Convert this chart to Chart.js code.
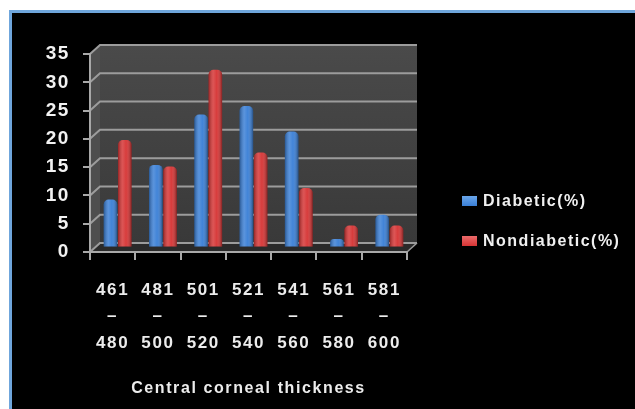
<!DOCTYPE html>
<html>
<head>
<meta charset="utf-8">
<script src="https://cdn.jsdelivr.net/npm/chart.js@4.4.1/dist/chart.umd.min.js"></script>
<style>
  html, body { margin: 0; padding: 0; background: #ffffff; overflow: hidden; }
  #frame {
    position: absolute; left: 9px; top: 10px; width: 660px; height: 440px;
    background: #000000; border-left: 3px solid #6fa6dc; border-top: 3px solid #6fa6dc;
  }
  #chart { position: absolute; left: 0; top: 0; }
</style>
</head>
<body>
<div id="frame"></div>
<canvas id="chart" width="635" height="409"></canvas>
<script>
// Central corneal thickness ranges (µm)
const rangeStart = [461, 481, 501, 521, 541, 561, 581];
const rangeEnd   = [480, 500, 520, 540, 560, 580, 600];

// Share of eyes in each range (%)
const diabetic    = [8.5, 14.6, 23.5, 25, 20.5, 1.5, 5.8];
const nondiabetic = [19, 14.3, 31.4, 16.8, 10.5, 3.9, 3.9];

const seriesNames = ['Diabetic(%)', 'Nondiabetic(%)'];
const yTicks = { min: 0, max: 35, step: 5 };

const categories = rangeStart.map((s, i) => [String(s), '\u2013', String(rangeEnd[i])]);

// depth of the pseudo-3D box: back wall offset, bars sit half way
const DEPTH = { dx: 10, dy: -9 };
const BAR_SHIFT = { dx: DEPTH.dx / 2, dy: DEPTH.dy / 2 };

const FONT = '"Liberation Sans", Arial, sans-serif';
Chart.defaults.font.family = FONT;
Chart.defaults.font.weight = 'bold';
Chart.defaults.color = '#f0f0f0';

const box3d = {
  id: 'box3d',
  beforeDraw(chart) {
    const { ctx, chartArea: a, scales } = chart;
    ctx.letterSpacing = '1.6px';
    const y = scales.y;
    const { dx, dy } = DEPTH;
    ctx.save();
    // back wall
    const g = ctx.createLinearGradient(0, a.top + dy, 0, a.bottom + dy);
    g.addColorStop(0, '#4a4a4a');
    g.addColorStop(1, '#393939');
    ctx.fillStyle = g;
    ctx.fillRect(a.left + dx, a.top + dy, a.right - a.left, a.bottom - a.top);
    // side wall
    ctx.fillStyle = '#4e4e4e';
    ctx.beginPath();
    ctx.moveTo(a.left, a.top);
    ctx.lineTo(a.left + dx, a.top + dy);
    ctx.lineTo(a.left + dx, a.bottom + dy);
    ctx.lineTo(a.left, a.bottom);
    ctx.closePath();
    ctx.fill();
    // floor
    ctx.fillStyle = '#2a2a2a';
    ctx.beginPath();
    ctx.moveTo(a.left, a.bottom);
    ctx.lineTo(a.left + dx, a.bottom + dy);
    ctx.lineTo(a.right + dx, a.bottom + dy);
    ctx.lineTo(a.right, a.bottom);
    ctx.closePath();
    ctx.fill();
    // grid lines on side and back wall
    ctx.strokeStyle = '#9c9c9c';
    ctx.lineWidth = 2;
    y.ticks.forEach(t => {
      const py = y.getPixelForValue(t.value);
      ctx.beginPath();
      ctx.moveTo(a.left, py);
      ctx.lineTo(a.left + dx, py + dy);
      ctx.lineTo(a.right + dx, py + dy);
      ctx.stroke();
    });
    // floor right edge
    ctx.lineWidth = 1.5;
    ctx.beginPath();
    ctx.moveTo(a.right, a.bottom);
    ctx.lineTo(a.right + dx, a.bottom + dy);
    ctx.stroke();
    ctx.restore();
  },
  beforeDatasetsDraw(chart) {
    chart.ctx.save();
    chart.ctx.translate(BAR_SHIFT.dx, BAR_SHIFT.dy);
  },
  afterDatasetsDraw(chart) {
    const ctx = chart.ctx;
    // cylinder shading over each bar
    chart.data.datasets.forEach((ds, di) => {
      chart.getDatasetMeta(di).data.forEach(bar => {
        const { x, y, base, width } = bar.getProps(['x', 'y', 'base', 'width'], true);
        const left = x - width / 2;
        const r = Math.min(5, width / 2, (base - y) / 2);
        const g = ctx.createLinearGradient(left, 0, left + width, 0);
        g.addColorStop(0, 'rgba(0,0,0,0.30)');
        g.addColorStop(0.35, 'rgba(255,255,255,0.16)');
        g.addColorStop(0.6, 'rgba(255,255,255,0.04)');
        g.addColorStop(1, 'rgba(0,0,0,0.38)');
        ctx.fillStyle = g;
        ctx.beginPath();
        ctx.roundRect(left, y, width, base - y, [r, r, 0, 0]);
        ctx.fill();
      });
    });
    ctx.restore();
  },
  afterDraw(chart) {
    // legend
    const ctx = chart.ctx;
    ctx.save();
    ctx.letterSpacing = '1.5px';
    ctx.font = 'bold 16px ' + FONT;
    ctx.textBaseline = 'middle';
    ctx.textAlign = 'left';
    chart.data.datasets.forEach((ds, i) => {
      const cy = 201 + i * 40;
      const g = ctx.createLinearGradient(0, cy - 5, 0, cy + 5);
      g.addColorStop(0, ds.legendLight);
      g.addColorStop(1, ds.backgroundColor);
      ctx.fillStyle = g;
      ctx.fillRect(462, cy - 5, 15, 10);
      ctx.fillStyle = '#f0f0f0';
      ctx.fillText(ds.label, 483, cy + 1);
    });
    ctx.restore();
  }
};

new Chart(document.getElementById('chart'), {
  type: 'bar',
  data: {
    labels: categories,
    datasets: [
      { label: seriesNames[0], data: diabetic, backgroundColor: '#3a7fd6', legendLight: '#6aa6ea' },
      { label: seriesNames[1], data: nondiabetic, backgroundColor: '#d63434', legendLight: '#ea6a6a' }
    ]
  },
  options: {
    responsive: false,
    animation: false,
    devicePixelRatio: 1,
    layout: { padding: { left: 0, top: 54, right: 228, bottom: 0 } },
    datasets: {
      bar: {
        categoryPercentage: 0.63,
        barPercentage: 0.95,
        borderRadius: { topLeft: 5, topRight: 5 },
        borderSkipped: 'start',
        clip: false
      }
    },
    plugins: { legend: { display: false }, tooltip: { enabled: false } },
    scales: {
      x: {
        grid: { drawOnChartArea: false, drawTicks: true, tickLength: 8, color: '#a8a8a8', lineWidth: 2 },
        border: { display: true, color: '#a8a8a8', width: 2 },
        ticks: {
          autoSkip: false, maxRotation: 0, padding: 17, color: '#ececec',
          font: { size: 17, weight: 'bold', lineHeight: 1.56 }
        },
        title: {
          display: true, text: 'Central corneal thickness', color: '#ececec',
          font: { size: 16, weight: 'bold' }, padding: { top: 0, bottom: 11 }
        },
        afterFit: s => { s.height = 157; }
      },
      y: {
        min: yTicks.min, max: yTicks.max,
        grid: { drawOnChartArea: false, drawTicks: true, tickLength: 7, color: '#a8a8a8', lineWidth: 2 },
        border: { display: true, color: '#a8a8a8', width: 2 },
        ticks: { stepSize: yTicks.step, padding: 13, color: '#f2f2f2', font: { size: 19, weight: 'bold' } },
        afterFit: s => { s.width = 90; }
      }
    }
  },
  plugins: [box3d]
});
</script>
</body>
</html>
